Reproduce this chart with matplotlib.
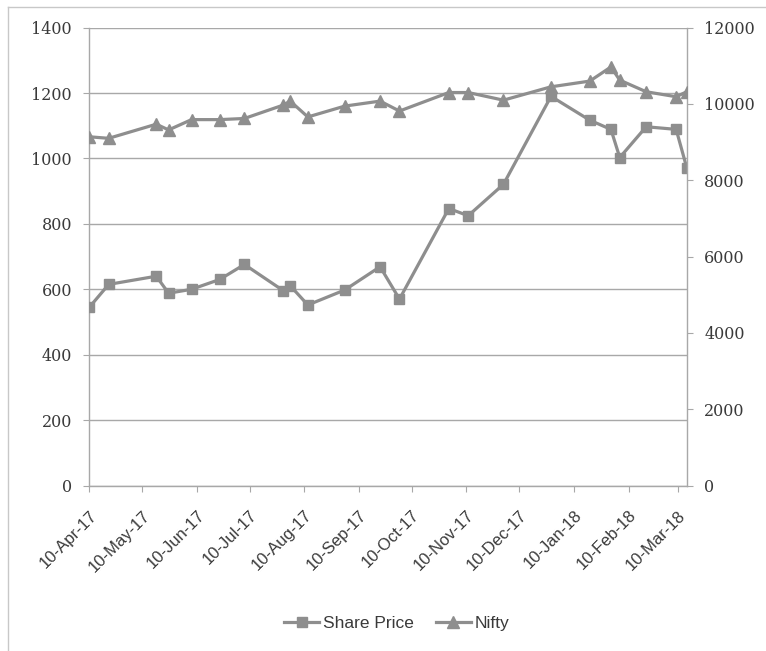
"""Share price vs Nifty, Excel-style dual axis line chart."""

import datetime as dt

import matplotlib

matplotlib.use("Agg")

import matplotlib.dates as mdates
import matplotlib.pyplot as plt
from matplotlib.lines import Line2D

DATES = [
    "2017-04-10", "2017-04-21", "2017-05-18", "2017-05-25", "2017-06-07",
    "2017-06-23", "2017-07-07", "2017-07-29", "2017-08-02", "2017-08-12",
    "2017-09-02", "2017-09-22", "2017-10-03", "2017-10-31", "2017-11-11",
    "2017-12-01", "2017-12-28", "2018-01-19", "2018-01-31", "2018-02-05",
    "2018-02-20", "2018-03-09", "2018-03-15",
]
SHARE_PRICE = [
    545, 615, 640, 588, 600, 630, 676, 596, 611, 552, 598, 669, 570,
    847, 825, 921, 1190, 1117, 1089, 1003, 1097, 1089, 972,
]
NIFTY = [
    9140, 9100, 9470, 9320, 9590, 9590, 9620, 9970, 10075, 9660, 9945,
    10075, 9815, 10300, 10300, 10100, 10450, 10600, 10970, 10625, 10320,
    10190, 10320,
]
TICK_DATES = [
    "2017-04-10", "2017-05-10", "2017-06-10", "2017-07-10", "2017-08-10",
    "2017-09-10", "2017-10-10", "2017-11-10", "2017-12-10", "2018-01-10",
    "2018-02-10", "2018-03-10",
]
LEFT_TICKS = [0, 200, 400, 600, 800, 1000, 1200, 1400]
RIGHT_TICKS = [0, 2000, 4000, 6000, 8000, 10000, 12000]

LINE_GREY = "#8e8e8e"
AXIS_GREY = "#a8a8a8"
TEXT_GREY = "#3a3a3a"
NUM_FONT = dict(family=["DejaVu Serif"], size=11.5, color=TEXT_GREY)
LABEL_FONT = ["Liberation Sans", "DejaVu Sans"]


def to_dates(values):
    return [dt.datetime.strptime(v, "%Y-%m-%d") for v in values]


dates = to_dates(DATES)
ticks = to_dates(TICK_DATES)

fig = plt.figure(figsize=(7.66, 6.51), dpi=100)
ax = fig.add_axes([0.1166, 0.2542, 0.7799, 0.7033])
ax2 = ax.twinx()

# outer chart-area border (left and top edges visible in the reference)
fig.add_artist(Line2D([8 / 766, 8 / 766], [0, 1 - 7 / 651],
                      transform=fig.transFigure, color="#c8c8c8", lw=1))
fig.add_artist(Line2D([8 / 766, 1], [1 - 7 / 651, 1 - 7 / 651],
                      transform=fig.transFigure, color="#c8c8c8", lw=1))

share_line, = ax.plot(dates, SHARE_PRICE, color=LINE_GREY, lw=2.3,
                      marker="s", markersize=7.5, label="Share Price", zorder=3)
nifty_line, = ax2.plot(dates, NIFTY, color=LINE_GREY, lw=2.3,
                       marker="^", markersize=8.5, label="Nifty", zorder=3)

ax.set_xlim(dates[0], dates[-1])
ax.set_ylim(0, 1400)
ax2.set_ylim(0, 12000)

ax.set_yticks(LEFT_TICKS)
ax.set_yticklabels([str(v) for v in LEFT_TICKS], fontdict=NUM_FONT)
ax2.set_yticks(RIGHT_TICKS)
ax2.set_yticklabels([str(v) for v in RIGHT_TICKS], fontdict=NUM_FONT)

ax.set_xticks(ticks)
ax.xaxis.set_major_formatter(mdates.DateFormatter("%d-%b-%y"))
for label in ax.get_xticklabels():
    label.set_rotation(45)
    label.set_ha("right")
    label.set_va("top")
    label.set_rotation_mode("anchor")
    label.set_family(LABEL_FONT)
    label.set_fontsize(12)
    label.set_color(TEXT_GREY)

ax.grid(axis="y", color=AXIS_GREY, lw=1)
ax.set_axisbelow(True)

for name in ("top", "right"):
    ax.spines[name].set_visible(False)
for name in ("top", "left", "bottom"):
    ax2.spines[name].set_visible(False)
for spine in (ax.spines["left"], ax.spines["bottom"], ax2.spines["right"]):
    spine.set_color(AXIS_GREY)
    spine.set_linewidth(1)

ax.tick_params(axis="y", length=4.5, color=AXIS_GREY, pad=8)
ax.tick_params(axis="x", length=4, color=AXIS_GREY, pad=12)
ax2.tick_params(axis="y", length=4.5, color=AXIS_GREY, pad=8)

fig.legend(handles=[share_line, nifty_line], loc="center",
           bbox_to_anchor=(0.518, 0.043), ncol=2, frameon=False,
           prop={"family": LABEL_FONT, "size": 12.5}, labelcolor=TEXT_GREY,
           handlelength=2.0, handletextpad=0.2, columnspacing=1.3)

fig.savefig("out.png", dpi=100)
plt.close(fig)
